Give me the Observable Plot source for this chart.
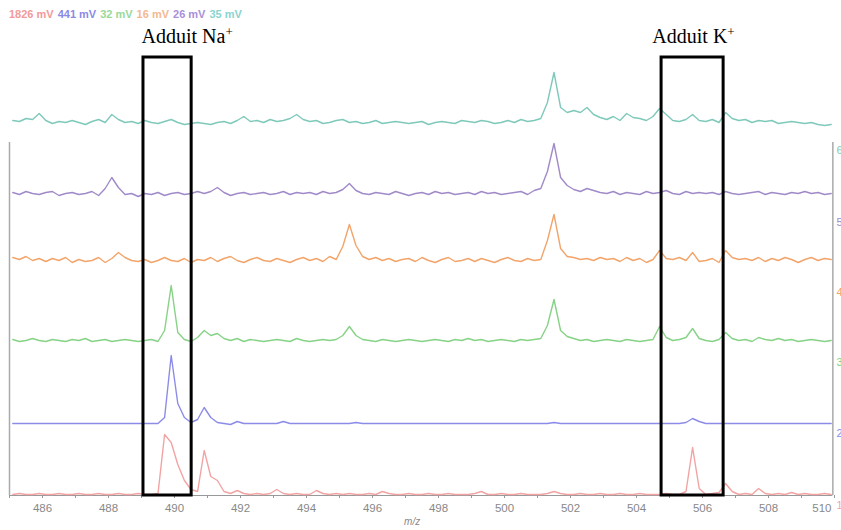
<!DOCTYPE html>
<html><head><meta charset="utf-8">
<script src="https://cdn.jsdelivr.net/npm/d3@7"></script>
<script src="https://cdn.jsdelivr.net/npm/@observablehq/plot@0.6"></script>
<style>
body{margin:0;background:#fff;}
#chart{position:relative;width:841px;height:530px;overflow:hidden;background:#fff;}
#legend{position:absolute;left:9px;top:8px;font-family:"Liberation Sans",Arial,sans-serif;font-size:11px;font-weight:bold;white-space:nowrap;}
#legend span{margin-right:4px;}
</style></head><body><div id="chart"><div id="legend"></div></div>
<script>
// m/z sampling positions
const mz = [
485.1,485.3,485.5,485.7,485.9, 486.1,486.3,486.5,486.7,486.9, 487.1,487.3,487.5,487.7,487.9,
488.1,488.3,488.5,488.7,488.9, 489.1,489.3,489.5,489.7,489.9, 490.1,490.3,490.5,490.7,490.9,
491.1,491.3,491.5,491.7,491.9, 492.1,492.3,492.5,492.7,492.9, 493.1,493.3,493.5,493.7,493.9,
494.1,494.3,494.5,494.7,494.9, 495.1,495.3,495.5,495.7,495.9, 496.1,496.3,496.5,496.7,496.9,
497.1,497.3,497.5,497.7,497.9, 498.1,498.3,498.5,498.7,498.9, 499.1,499.3,499.5,499.7,499.9,
500.1,500.3,500.5,500.7,500.9, 501.1,501.3,501.5,501.7,501.9, 502.1,502.3,502.5,502.7,502.9,
503.1,503.3,503.5,503.7,503.9, 504.1,504.3,504.5,504.7,504.9, 505.1,505.3,505.5,505.7,505.9,
506.1,506.3,506.5,506.7,506.9, 507.1,507.3,507.5,507.7,507.9, 508.1,508.3,508.5,508.7,508.9,
509.1,509.3,509.5,509.7,509.9
];
// relative intensities for each trace (same m/z positions)
const trace1 = [ // red, 1826 mV
0,1,0,0,1, 0,0,1,0,0, 1,0,0,1,0, 0,1,0,0,1, 0,0,1,60,52, 30,14,5,3,44,
18,14,3,1,4, 1,0,1,0,1, 5,1,0,1,0, 0,4,1,0,1, 0,1,0,0,1, 0,3,1,0,0,
1,0,0,1,0, 0,1,0,0,0, 1,3,0,0,1, 0,0,1,0,0, 0,1,3,1,0, 0,1,0,0,1,
0,0,1,0,0, 1,0,0,0,1, 0,0,3,47,6, 0,1,2,11,3, 0,1,0,6,1, 0,1,0,2,0,
1,0,0,1,0
];
const trace2 = [ // blue, 441 mV
0,0,0,0,0, 0,0,0,0,0, 0,0,0,0,0, 0,0,0,0,0, 0,0,0,6,68, 20,6,1,4,16,
6,1,0,-1,2, 0,0,0,0,0, 0,2,0,0,0, 0,0,0,0,0, 0,0,1,0,0, 0,0,0,0,0,
0,0,0,0,0, 0,0,0,0,0, 0,0,0,0,0, 0,0,0,0,0, 0,0,1,0,0, 0,0,0,0,0,
0,0,0,0,0, 0,0,0,0,0, 0,0,1,5,2, 0,0,0,0,0, 0,0,0,0,0, 0,0,0,0,0,
0,0,0,0,0
];
const trace3 = [ // green, 32 mV
1,-1,0,2,0, -1,1,0,-1,1, 0,2,-1,0,1, -1,0,1,0,-1, 0,1,-1,10,55, 8,1,-1,3,10,
5,7,2,0,2, -1,1,0,-1,0, 1,0,-1,2,0, -1,0,1,0,1, 5,14,5,1,0, -1,1,0,-1,0,
1,0,-1,0,1, 0,-1,1,0,2, 0,1,-1,0,1, 0,-1,1,0,1, 2,15,41,10,4, 2,0,1,-1,0,
1,0,-1,1,0, -1,0,1,14,3, 0,1,3,12,2, 0,-1,1,8,2, 0,1,-1,3,1, 0,2,0,1,-1,
0,1,0,-1,0
];
const trace4 = [ // orange, 16 mV
3,1,4,0,2, -1,2,0,3,-2, 1,-1,0,3,-2, 2,8,3,0,-1, 1,-2,0,3,0, -1,2,-2,1,0,
3,-1,2,4,0, -2,1,3,0,-1, 2,0,-2,1,3, 0,2,-1,4,1, 14,36,15,4,1, 3,0,2,-1,1,
2,-1,3,0,-2, 1,3,-1,0,2, -1,2,0,-2,1, 3,0,-1,2,0, 1,20,46,12,4, 3,1,2,0,3,
1,2,-1,3,0, 2,-2,1,10,2, 1,3,0,8,-1, 0,2,-2,10,3, 1,2,0,3,-1, 2,0,3,1,-2,
1,3,0,2,1
];
const trace5 = [ // purple, 26 mV
1,-1,2,0,-1, 1,2,-2,0,1, -1,0,2,-2,5, 16,6,-1,0,-3, 0,-1,1,-2,0, 1,-1,0,2,0,
2,6,1,-2,0, 1,-1,0,1,-1, 0,2,-1,1,0, 1,-1,2,0,1, 4,10,3,0,-1, 1,0,-1,2,0,
-2,0,1,-1,2, 0,1,-1,0,1, -1,2,0,1,-1, 0,1,2,-1,3, 5,22,50,16,8, 4,2,5,3,1,
0,2,-1,1,0, -1,2,0,1,3, 0,-1,2,0,1, 0,1,-1,2,0, -1,0,1,2,-1, 1,0,-1,1,0,
2,0,1,-1,0
];
const trace6 = [ // teal, 35 mV
2,1,4,3,9, 2,-1,1,0,2, 0,-2,1,3,0, 8,3,0,1,-1, 2,0,-1,1,3, 0,-2,-1,0,-1,
-2,0,1,-1,2, 6,1,2,0,3, 1,2,4,8,3, 1,2,-1,0,2, 3,0,1,-1,0, 2,-1,0,1,0,
-1,0,1,-2,0, 1,0,-1,2,1, 0,2,1,-1,0, 2,0,3,1,2, 4,20,50,15,10, 12,10,15,8,5,
3,6,2,9,5, 4,2,6,14,8, 2,1,3,8,2, 1,3,0,10,4, 2,3,0,2,1, 2,-1,0,1,0,
-1,0,-2,-3,-2
];
const traces = [trace1, trace2, trace3, trace4, trace5, trace6];
const traceIds = ["1","2","3","4","5","6"];
const idLabelY = [-10, 62, 133, 203, 273, 345];
const legendLabels = ["1826 mV","441 mV","32 mV","16 mV","26 mV","35 mV"];
const offsets = [1, 72, 155, 235, 302, 373];
const lineColors = ["#f2a3a3","#8c8ce8","#86d286","#f2a46a","#a08ac8","#7fc9bb"];
const legendColors = ["#f29a9a","#8a8ae6","#9ad89a","#f5b890","#a890d8","#8ad4d0"];
const labelTicks = [486,488,490,492,494,496,498,500,502,504,506,508];
const lastTick = [510];
const minorTicks = [485,486,487,488,489,490,491,492,493,494,495,496,497,498,499,500,501,502,503,504,505,506,507,508,509,510];
const boxes = [
  {label:"Adduit Na", x1:489.06, x2:490.52, lx:489.0},
  {label:"Adduit K",  x1:504.76, x2:506.64, lx:504.48}
];
const boxTop = 438, labelY = 459, frameTop = 353, rightEdge = 509.95;

const rows = [];
traces.forEach((t, k) => t.forEach((v, i) => rows.push({mz: mz[i], y: offsets[k] + v, s: k})));

const legend = document.getElementById("legend");
legendLabels.forEach((l, k) => {
  const s = document.createElement("span");
  s.textContent = l; s.style.color = legendColors[k];
  legend.appendChild(s);
});

const plot = Plot.plot({
  width: 841, height: 530,
  marginLeft: 9, marginRight: 7, marginTop: 0, marginBottom: 35,
  style: {background: "transparent", fontFamily: "Liberation Sans, Arial, sans-serif"},
  x: {domain: [485, 510]},
  y: {domain: [0, 495], axis: null},
  marks: [
    Plot.ruleY([0], {stroke: "#999", x1: 485, x2: rightEdge}),
    Plot.ruleX([485, rightEdge], {y1: 0, y2: frameTop, stroke: "#aaa", strokeWidth: 1.5}),
    Plot.axisX(minorTicks, {tickSize: 3, text: null, stroke: "#999"}),
    Plot.axisX(labelTicks, {tickSize: 0, tickPadding: 8, fontSize: 11.5, fill: "#888", label: null}),
    Plot.axisX(lastTick, {tickSize: 0, tickPadding: 8, fontSize: 11.5, fill: "#888", textAnchor: "end", dx: -3, label: null}),
    Plot.text(["m/z"], {x: 497.2, y: -26, text: d => d, fontSize: 10, fill: "#888", fontStyle: "italic"}),
    ...traces.map((t, k) => Plot.line(rows.filter(r => r.s === k), {x: "mz", y: "y", stroke: lineColors[k], strokeWidth: 1.4, curve: "linear"})),
    Plot.text(traceIds, {x: 510, y: (d, i) => idLabelY[i], text: d => d, dx: 2, textAnchor: "start", fontSize: 11, fill: (d, i) => lineColors[i]}),
    Plot.rect(boxes, {x1: "x1", x2: "x2", y1: 0, y2: boxTop, fill: "none", stroke: "black", strokeWidth: 3}),
    Plot.text(boxes, {x: "lx", y: labelY, text: "label", textAnchor: "start", fontSize: 20, fill: "black", fontFamily: "Liberation Serif, Times New Roman, serif"})
  ]
});
document.getElementById("chart").appendChild(plot);
plot.style.position = "absolute"; plot.style.left = "0"; plot.style.top = "0";
d3.select(plot).selectAll("text")
  .filter(function() { return this.textContent.startsWith("Adduit"); })
  .append("tspan").attr("dy", "-0.5em").attr("font-size", "13").text("+");
</script></body></html>
